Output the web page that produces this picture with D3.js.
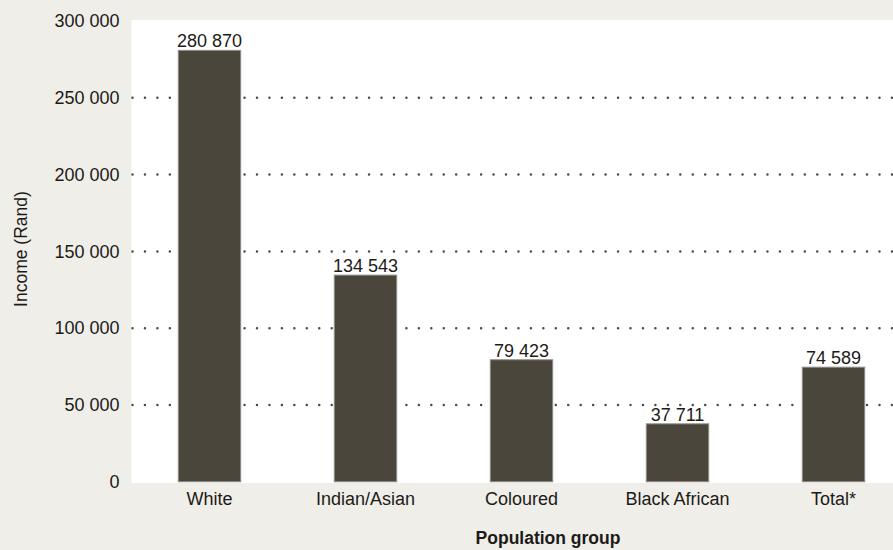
<!DOCTYPE html>
<html>
<head>
<meta charset="utf-8">
<script src="https://cdn.jsdelivr.net/npm/d3@7"></script>
<style>
  html, body { margin: 0; padding: 0; background: #efeee9; }
  svg { display: block; font-family: "Liberation Sans", Arial, Helvetica, sans-serif; }
</style>
</head>
<body>
<svg width="893" height="550"></svg>
<script>
// DATA
const groups = ['White', 'Indian/Asian', 'Coloured', 'Black African', 'Total*'];
const incomes = [280870, 134543, 79423, 37711, 74589];
const yTicks = [0, 50000, 100000, 150000, 200000, 250000, 300000];

const svg = d3.select('svg');
const width = +svg.attr('width');
const height = +svg.attr('height');

const plotLeft = 131.5;
const plotTop = 20;
const plotBottom = 483;

const fmt = d3.formatLocale({ decimal: '.', thousands: ' ', grouping: [3], currency: ['', ''] }).format(',d');

const x = d3.scaleBand()
  .domain(groups)
  .range([plotLeft, plotLeft + 156 * groups.length])
  .paddingInner(0.6)
  .paddingOuter(0.3);

const y = d3.scaleLinear()
  .domain([0, 300000])
  .range([481.75, 21]);

svg.append('rect')
  .attr('width', width)
  .attr('height', height)
  .attr('fill', '#efeee9');

// plot area
svg.append('rect')
  .attr('x', plotLeft)
  .attr('y', plotTop)
  .attr('width', width - plotLeft)
  .attr('height', plotBottom - plotTop)
  .attr('fill', '#ffffff');

// dotted grid
svg.append('g')
  .selectAll('line')
  .data(yTicks.filter(d => d > 0 && d < 300000))
  .join('line')
    .attr('x1', plotLeft + 1)
    .attr('x2', width)
    .attr('y1', d => y(d))
    .attr('y2', d => y(d))
    .attr('stroke', '#4a4a4a')
    .attr('stroke-width', 2.5)
    .attr('stroke-linecap', 'round')
    .attr('stroke-dasharray', '0 12.45');

// y axis labels
const yAxis = svg.append('g')
  .attr('transform', `translate(${plotLeft - 12},0)`)
  .call(d3.axisLeft(y).tickValues(yTicks).tickFormat(fmt).tickSize(0).tickPadding(0));
yAxis.select('.domain').remove();
yAxis.attr('font-family', null);
yAxis.selectAll('text')
  .attr('font-size', 18)
  .attr('fill', '#1d1a18');

// bars
svg.append('g')
  .selectAll('rect')
  .data(groups)
  .join('rect')
    .attr('x', d => x(d))
    .attr('y', (d, i) => y(incomes[i]))
    .attr('width', x.bandwidth())
    .attr('height', (d, i) => y(0) - y(incomes[i]))
    .attr('fill', '#4a463b')
    .attr('stroke', '#8f8c84')
    .attr('stroke-width', 1);

// value labels
svg.append('g')
  .selectAll('text')
  .data(groups)
  .join('text')
    .attr('x', d => x(d) + x.bandwidth() / 2)
    .attr('y', (d, i) => y(incomes[i]) - 3)
    .attr('text-anchor', 'middle')
    .attr('font-size', 18)
    .attr('fill', '#1d1a18')
    .text((d, i) => fmt(incomes[i]));

// x axis labels
const xAxis = svg.append('g')
  .attr('transform', `translate(0,${plotBottom})`)
  .call(d3.axisBottom(x).tickSize(0).tickPadding(0));
xAxis.select('.domain').remove();
xAxis.attr('font-family', null);
xAxis.selectAll('text')
  .attr('dy', null)
  .attr('y', 22)
  .attr('font-size', 18)
  .attr('fill', '#1d1a18');

// axis titles
svg.append('text')
  .attr('transform', `translate(27,249) rotate(-90)`)
  .attr('text-anchor', 'middle')
  .attr('font-size', 17.5)
  .attr('fill', '#1d1a18')
  .text('Income (Rand)');

svg.append('text')
  .attr('x', 548)
  .attr('y', 544)
  .attr('text-anchor', 'middle')
  .attr('font-size', 17.5)
  .attr('font-weight', 'bold')
  .attr('fill', '#1d1a18')
  .text('Population group');
</script>
</body>
</html>
